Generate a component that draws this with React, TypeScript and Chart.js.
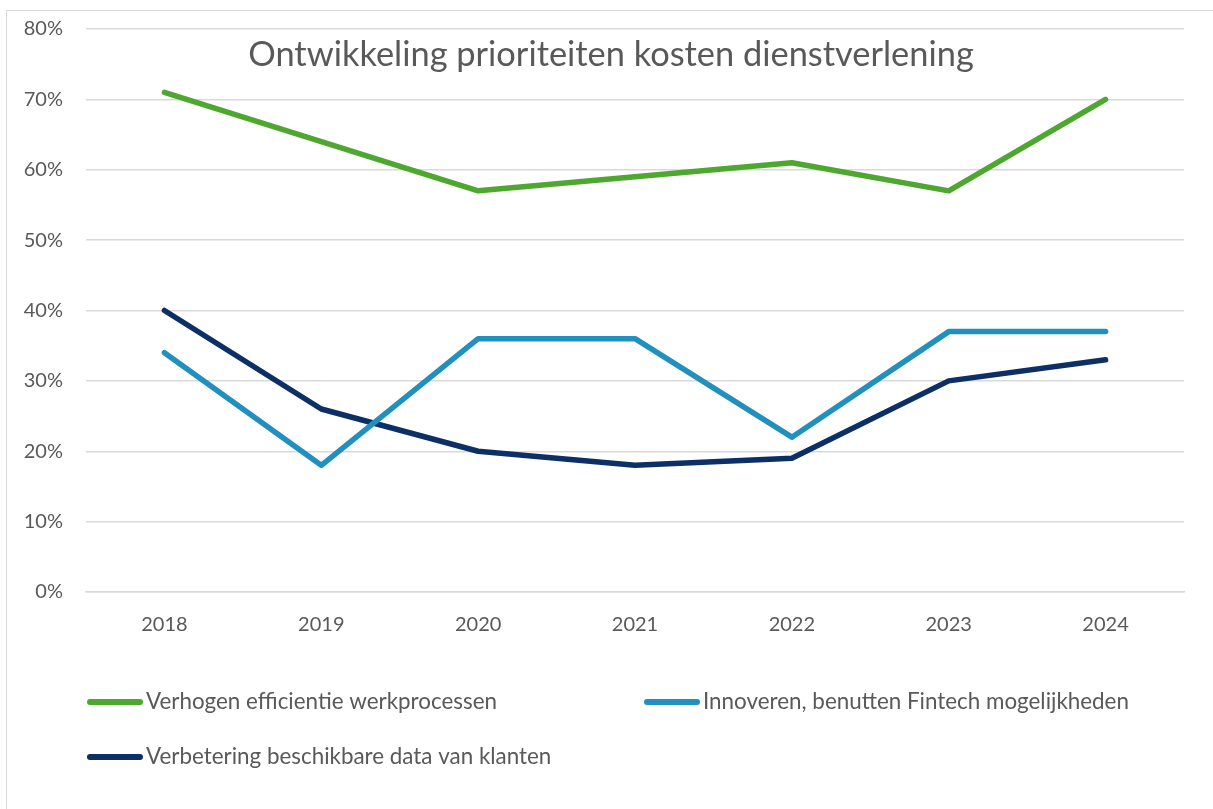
import React, { useEffect, useRef } from "react";
import { Chart, registerables } from "chart.js";

Chart.register(...registerables);

const TITLE = "Ontwikkeling prioriteiten kosten dienstverlening";
const YEARS = ["2018", "2019", "2020", "2021", "2022", "2023", "2024"];
const EFFICIENTIE = [71, 64, 57, 59, 61, 57, 70];
const FINTECH = [34, 18, 36, 36, 22, 37, 37];
const DATA_KLANTEN = [40, 26, 20, 18, 19, 30, 33];
const SERIES_NAMES = [
  "Verhogen efficientie werkprocessen",
  "Innoveren, benutten Fintech mogelijkheden",
  "Verbetering beschikbare data van klanten",
];
const SERIES_COLORS = ["#4ea72e", "#2190be", "#0c2f66"];
const Y_MAX = 80;
const Y_STEP = 10;

const FONT = "Lato, 'Open Sans', sans-serif";
const TEXT_COLOR = "#595959";
const GRID_COLOR = "#d9d9d9";

const titlePlugin = {
  id: "insideTitle",
  afterDraw(chart: any) {
    const ctx = chart.ctx;
    ctx.save();
    ctx.font = `34.4px ${FONT}`;
    ctx.fillStyle = TEXT_COLOR;
    ctx.textAlign = "center";
    ctx.textBaseline = "middle";
    ctx.fillText(TITLE, 611, 55);
    ctx.restore();
  },
};

const legendPlugin = {
  id: "gridLegend",
  afterDraw(chart: any) {
    const ctx = chart.ctx;
    const slots = [
      { x: 87, y: 702 },
      { x: 644, y: 702 },
      { x: 87, y: 757 },
    ];
    ctx.save();
    chart.data.datasets.forEach((ds: any, i: number) => {
      const s = slots[i];
      ctx.strokeStyle = ds.borderColor;
      ctx.lineWidth = 6;
      ctx.lineCap = "round";
      ctx.beginPath();
      ctx.moveTo(s.x + 3, s.y);
      ctx.lineTo(s.x + 53, s.y);
      ctx.stroke();
      ctx.font = `22.4px ${FONT}`;
      ctx.fillStyle = TEXT_COLOR;
      ctx.textAlign = "left";
      ctx.textBaseline = "middle";
      ctx.fillText(ds.label, s.x + 59, s.y);
    });
    ctx.restore();
  },
};

export default function App() {
  const ref = useRef<HTMLCanvasElement>(null);
  useEffect(() => {
    if (!ref.current) return;
    const values = [EFFICIENTIE, FINTECH, DATA_KLANTEN];
    const chart = new Chart(ref.current, {
      type: "line",
      data: {
        labels: YEARS,
        datasets: values.map((v, i) => ({
          label: SERIES_NAMES[i],
          data: v,
          borderColor: SERIES_COLORS[i],
          backgroundColor: SERIES_COLORS[i],
          borderWidth: 5.5,
          pointRadius: 0,
          pointHoverRadius: 0,
          borderJoinStyle: "round" as const,
          borderCapStyle: "round" as const,
          tension: 0,
          fill: false,
        })),
      },
      options: {
        animation: false,
        responsive: false,
        maintainAspectRatio: false,
        layout: { padding: { top: 29, right: 29, bottom: 0, left: 0 } },
        plugins: {
          legend: { display: false },
          title: { display: false },
          tooltip: { enabled: false },
        },
        scales: {
          x: {
            offset: true,
            grid: { display: false, drawTicks: false },
            border: { display: true, color: GRID_COLOR, width: 1.5 },
            ticks: {
              color: TEXT_COLOR,
              font: { family: FONT, size: 20 },
              padding: 21,
              maxRotation: 0,
            },
            afterFit: (s: any) => {
              s.height = 217;
              s.paddingLeft = 0;
              s.paddingRight = 0;
            },
          },
          y: {
            min: 0,
            max: Y_MAX,
            grid: { color: GRID_COLOR, lineWidth: 1.5, drawTicks: false },
            border: { display: false },
            ticks: {
              stepSize: Y_STEP,
              color: TEXT_COLOR,
              font: { family: FONT, size: 20 },
              padding: 23,
              callback: (v: any) => `${v}%`,
            },
            afterFit: (s: any) => {
              s.width = 86;
              s.paddingTop = 0;
              s.paddingBottom = 0;
            },
          },
        },
      },
      plugins: [titlePlugin, legendPlugin],
    });
    return () => chart.destroy();
  }, []);

  return (
    <div style={{ position: "fixed", left: 0, top: 0, width: 1213, height: 809, background: "#fff", overflow: "hidden" }}>
      <div
        style={{
          position: "absolute",
          left: 6,
          top: 10,
          width: 1300,
          height: 900,
          borderTop: `1.5px solid ${GRID_COLOR}`,
          borderLeft: `1.5px solid ${GRID_COLOR}`,
        }}
      />
      <canvas ref={ref} width={1213} height={809} style={{ position: "absolute", left: 0, top: 0, display: "block" }} />
    </div>
  );
}
